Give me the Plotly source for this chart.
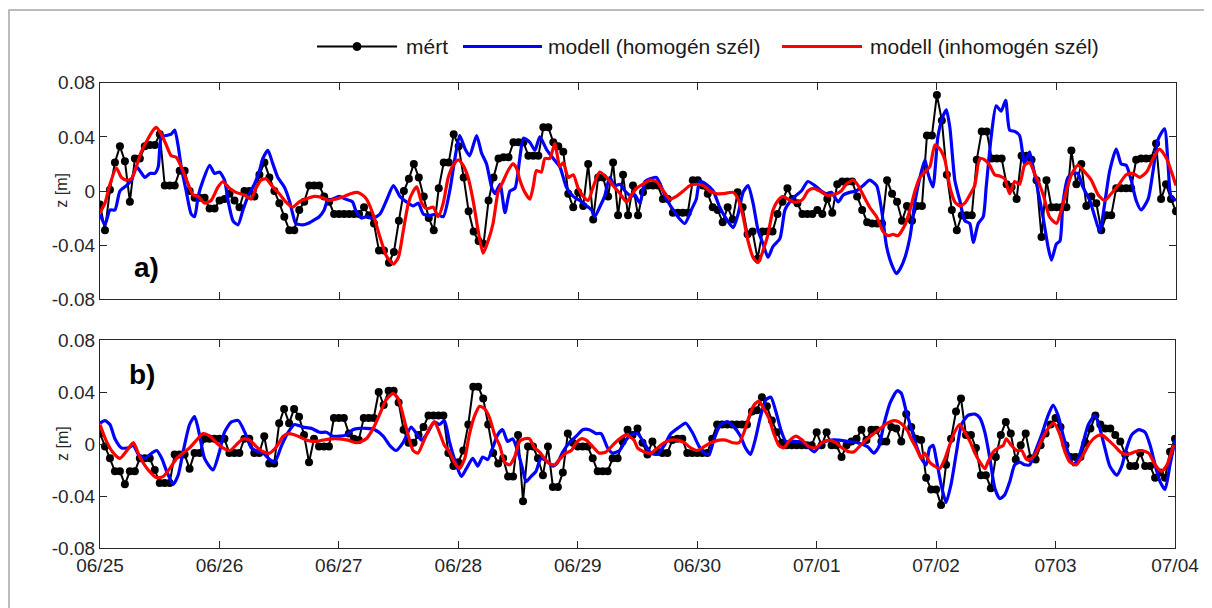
import plotly.graph_objects as go

W, H = 1212, 608
OFF = 8  # the page body adds an 8 px margin around the figure

# ---------------- data ----------------
day_labels = ["06/25", "06/26", "06/27", "06/28", "06/29", "06/30", "07/01", "07/02", "0703", "07/04"]
day_hours = [0, 24, 48, 72, 96, 120, 144, 168, 192, 216]
y_ticks = [-0.08, -0.04, 0, 0.04, 0.08]
y_tick_text = ["-0.08", "-0.04", "0", "0.04", "0.08"]
series_names = ["mért", "modell (homogén szél)", "modell (inhomogén szél)"]

# measured water level, hourly from 06/25 00:00 (panel a)
mert_a = [
    -0.010, -0.029, 0.001, 0.021, 0.033, 0.022, -0.008, 0.024, 0.024, 0.033, 0.034, 0.034,
    0.042, 0.004, 0.004, 0.004, 0.015, 0.015, 0.000, -0.005, -0.005, -0.005, -0.013, -0.013,
    -0.007, -0.006, -0.002, -0.007, -0.012, 0.000, 0.000, -0.004, 0.012, 0.021, 0.010, 0.000,
    -0.009, -0.019, -0.029, -0.029, -0.014, -0.008, 0.004, 0.004, 0.004, -0.004, -0.008, -0.017,
    -0.017, -0.017, -0.017, -0.017, -0.017, -0.012, -0.018, -0.024, -0.044, -0.044, -0.053, -0.045,
    -0.022, 0.000, 0.009, 0.020, 0.010, -0.004, -0.020, -0.029, 0.002, 0.021, 0.021, 0.042,
    0.033, 0.010, -0.015, -0.030, -0.037, -0.039, -0.007, 0.010, 0.024, 0.025, 0.025, 0.036,
    0.036, 0.036, 0.026, 0.026, 0.026, 0.047, 0.047, 0.036, 0.033, 0.029, -0.002, -0.012,
    -0.001, -0.011, 0.020, -0.021, 0.010, 0.010, -0.004, 0.021, -0.018, 0.012, -0.018, 0.004,
    -0.018, -0.001, 0.004, 0.004, 0.004, -0.006, -0.006, -0.016, -0.016, -0.016, -0.016, 0.008,
    0.008, 0.004, -0.002, -0.012, -0.014, -0.023, -0.012, -0.021, -0.001, -0.012, -0.032, -0.030,
    -0.050, -0.030, -0.030, -0.030, -0.017, -0.008, 0.002, -0.006, -0.009, -0.017, -0.017, -0.017,
    -0.014, -0.017, -0.006, -0.016, 0.005, 0.007, 0.007, 0.007, -0.004, -0.014, -0.023, -0.024,
    -0.024, -0.024, 0.008, -0.002, -0.008, -0.022, -0.011, -0.022, -0.011, -0.011, 0.041, 0.041,
    0.071, 0.052, 0.012, -0.014, -0.029, -0.018, -0.018, -0.018, 0.023, 0.044, 0.044, 0.024,
    0.024, 0.024, 0.005, 0.003, -0.006, 0.026, 0.026, 0.023, 0.008, -0.034, 0.008, -0.012,
    -0.012, -0.012, -0.012, 0.030, 0.005, 0.020, -0.011, -0.004, -0.009, -0.029, -0.018, -0.018,
    0.002, 0.002, 0.002, 0.002, 0.023, 0.024, 0.024, 0.024, 0.035, -0.006, 0.005, -0.006,
    -0.015,
]

# measured water level, hourly (panel b)
mert_b = [
    0.008, -0.002, -0.011, -0.021, -0.021, -0.031, -0.021, -0.021, -0.011, -0.011, -0.011, -0.020,
    -0.030, -0.030, -0.030, -0.008, -0.008, -0.008, -0.019, -0.007, -0.007, 0.004, 0.004, 0.004,
    0.004, 0.004, -0.007, -0.007, -0.007, 0.004, 0.004, -0.007, -0.007, 0.006, -0.015, -0.015,
    0.016, 0.027, 0.016, 0.027, 0.021, 0.007, -0.014, 0.004, -0.002, -0.002, -0.002, 0.020,
    0.020, 0.020, 0.008, 0.004, 0.003, 0.020, 0.020, 0.020, 0.040, 0.030, 0.041, 0.041,
    0.032, 0.011, 0.001, 0.001, 0.007, 0.013, 0.022, 0.022, 0.022, 0.022, -0.007, -0.017,
    -0.014, -0.005, 0.015, 0.044, 0.044, 0.035, 0.015, -0.007, -0.015, -0.011, -0.025, -0.025,
    0.007, -0.044, -0.002, -0.002, -0.011, -0.024, -0.002, -0.033, -0.033, -0.022, 0.008, 0.001,
    -0.002, -0.002, -0.002, -0.011, -0.021, -0.021, -0.021, -0.011, -0.011, 0.002, 0.011, 0.007,
    0.012, 0.001, -0.008, 0.002, -0.006, -0.007, -0.007, 0.003, 0.004, 0.004, -0.007, -0.007,
    -0.007, -0.007, -0.007, 0.004, 0.015, 0.015, 0.015, 0.015, 0.015, 0.015, 0.015, 0.025,
    0.026, 0.036, 0.029, 0.018, 0.009, 0.001, -0.001, -0.001, -0.001, -0.001, -0.001, -0.001,
    0.009, -0.001, 0.009, -0.001, -0.001, -0.010, -0.001, 0.002, 0.004, 0.011, 0.003, 0.011,
    0.011, 0.002, 0.002, 0.013, 0.012, 0.002, 0.023, 0.013, 0.004, 0.003, -0.026, -0.035,
    -0.035, -0.047, -0.016, 0.004, 0.025, 0.035, 0.007, 0.007, -0.003, -0.024, -0.024, -0.034,
    -0.010, 0.007, 0.017, 0.008, -0.012, -0.001, 0.008, -0.011, -0.012, -0.001, 0.008, 0.015,
    0.020, 0.013, -0.001, -0.010, -0.010, -0.010, 0.001, 0.012, 0.022, 0.015, 0.012, 0.012,
    0.007, 0.002, -0.008, -0.017, -0.017, -0.007, -0.017, -0.017, -0.026, -0.022, -0.026, -0.006,
    0.004,
]

# model, homogeneous wind (panel a): (hour, z)
homogen_a = [
    (0, -0.017), (1, -0.025), (2, -0.014), (3, -0.014), (4, 0.0), (5.3, 0.004), (6.3, 0.008),
    (7.3, 0.018), (8, 0.015), (9, 0.010), (10, 0.013), (11, 0.013), (11.7, 0.018), (12.3, 0.040),
    (13.3, 0.041), (14.3, 0.042), (15, 0.045), (15.7, 0.033), (16.3, 0.018), (17.3, 0.0),
    (18.3, -0.017), (19, -0.019), (19.7, -0.004), (20.7, 0.008), (22, 0.019), (23, 0.013),
    (24, 0.014), (25, 0.008), (25.7, -0.007), (26.7, -0.022), (27.7, -0.025), (28.7, -0.014),
    (29.7, -0.004), (31, 0.005), (32, 0.015), (32.7, 0.024), (33.7, 0.030), (34.7, 0.020),
    (35.7, 0.010), (37, 0.003), (38, -0.007), (38.7, -0.017), (39.3, -0.024), (40.7, -0.025),
    (41.7, -0.024), (42.7, -0.022), (44, -0.019), (45, -0.014), (45.7, -0.007), (46.7, -0.006),
    (48, -0.004), (49.3, -0.006), (50.7, -0.008), (51.3, -0.014), (52.5, -0.020), (53.5, -0.019),
    (54.9, -0.020), (56.2, -0.017), (57.5, -0.007), (58.9, 0.004), (60.2, -0.004), (61.5, -0.008),
    (62.9, -0.011), (63.9, -0.009), (64.9, -0.017), (66.2, -0.018), (67.6, -0.017), (68.9, -0.019),
    (70.2, 0.0), (71.2, 0.023), (72.2, 0.041), (73.3, 0.031), (74.2, 0.026), (75.6, 0.041),
    (76.6, 0.028), (77.6, 0.020), (78.6, 0.003), (79.3, -0.002), (80.3, 0.005), (81.3, -0.016),
    (82.3, 0.0), (83.3, 0.002), (84.3, 0.025), (85, 0.039), (86.3, 0.036), (87.3, 0.030),
    (88.3, 0.040), (89.6, 0.031), (91, 0.024), (92.3, 0.018), (93.6, 0.003), (95, -0.004),
    (96.3, -0.007), (97.7, -0.011), (98.7, -0.014), (99.3, -0.019), (100.3, -0.012),
    (101.3, -0.004), (102.3, 0.010), (103.3, 0.004), (104.4, 0.005), (105.4, 0.0), (106.7, -0.004),
    (107.4, -0.003), (108.4, -0.009), (109.4, 0.007), (110.4, 0.009), (111.7, 0.010),
    (112.7, 0.003), (113.7, -0.006), (114.7, -0.012), (116, -0.019), (117.4, -0.024),
    (118.7, -0.014), (119.7, -0.006), (120.4, 0.007), (121.7, 0.005), (123.1, 0.0),
    (124.4, -0.012), (125.8, -0.021), (127.1, -0.027), (128.1, -0.017), (129.1, -0.001),
    (130.1, 0.004), (131.1, -0.009), (132.1, -0.029), (133.1, -0.039), (134.1, -0.049),
    (135.1, -0.041), (136.5, -0.035), (137.5, -0.014), (138.5, -0.008), (139.5, -0.004),
    (140.8, 0.0), (142.1, 0.007), (143.5, 0.004), (144.8, 0.0), (145.8, -0.002), (146.8, -0.001),
    (148.2, -0.008), (149.2, -0.003), (150.5, -0.001), (151.8, 0.0), (153.2, 0.004),
    (154.5, 0.008), (155.9, 0.004), (156.9, -0.014), (157.9, -0.041), (158.9, -0.054),
    (159.9, -0.061), (160.7, -0.057), (161.6, -0.049), (162.6, -0.034), (163.6, -0.008),
    (164.6, 0.010), (165.6, 0.023), (166.2, 0.013), (167.2, 0.003), (168.2, 0.040),
    (169.2, 0.055), (169.9, 0.060), (170.6, 0.047), (171.6, 0.008), (172.6, -0.007),
    (173.6, -0.022), (174.6, -0.024), (175.3, -0.038), (176.3, -0.024), (177.3, -0.019),
    (177.9, 0.003), (178.9, 0.040), (179.9, 0.063), (180.9, 0.059), (181.8, 0.067),
    (182.6, 0.045), (183.6, 0.044), (184.6, 0.041), (185.6, 0.020), (186.6, 0.029),
    (187.3, 0.018), (188.3, 0.0), (189.3, -0.019), (190.3, -0.041), (191, -0.051),
    (192, -0.039), (192.7, -0.037), (193.3, -0.009), (194.3, 0.010), (195.3, 0.013),
    (196.3, 0.013), (197.3, 0.003), (198.7, -0.007), (199.7, -0.019), (200.7, -0.030),
    (201.7, -0.009), (202.7, 0.015), (204, 0.031), (205, 0.020), (206, 0.019), (207, 0.008),
    (208, -0.007), (209, -0.014), (210.4, -0.006), (211.4, 0.015), (212.4, 0.038),
    (213.7, 0.046), (214.4, 0.020), (215, -0.004), (216, -0.007),
]

# model, inhomogeneous wind (panel a): (hour, z)
inhomogen_a = [
    (0, -0.016), (1, -0.009), (2, 0.005), (3.3, 0.017), (4.3, 0.010), (5.3, 0.008), (6.3, 0.009),
    (7.3, 0.018), (8.3, 0.029), (9.7, 0.039), (10.7, 0.045), (11.3, 0.047), (12.3, 0.042),
    (13.3, 0.034), (14.3, 0.026), (15.3, 0.025), (16.3, 0.018), (17.7, 0.005), (18.7, -0.003),
    (19.7, -0.004), (21, -0.009), (22.3, -0.007), (23.7, 0.003), (24.7, 0.007), (26, 0.002),
    (27.3, -0.001), (29, -0.003), (30.3, -0.006), (31.3, 0.002), (32.3, 0.008), (33.3, 0.009),
    (34.7, 0.003), (36, -0.002), (37.3, -0.008), (38.7, -0.012), (40, -0.008), (41.3, -0.006),
    (43, -0.004), (44.7, -0.005), (46, -0.007), (47.3, -0.006), (49, -0.004), (50.3, -0.002),
    (51.7, -0.001), (52.7, -0.003), (53.5, -0.006), (54.9, -0.018), (56.2, -0.034),
    (57.5, -0.048), (58.9, -0.054), (59.9, -0.049), (60.9, -0.029), (61.9, -0.009), (62.9, 0.0),
    (63.6, 0.003), (64.6, -0.009), (65.6, -0.013), (66.9, -0.012), (67.9, -0.019), (68.9, -0.009),
    (69.9, 0.010), (70.9, 0.019), (71.9, 0.023), (72.9, 0.019), (73.9, 0.010), (74.9, -0.007),
    (75.9, -0.029), (76.9, -0.046), (77.9, -0.037), (78.9, -0.024), (79.9, -0.001), (80.9, 0.007),
    (81.9, 0.015), (82.9, 0.020), (83.6, 0.017), (84.3, 0.008), (85.3, -0.001), (86.3, -0.006),
    (87, 0.004), (87.6, 0.015), (88.6, 0.014), (89.3, 0.024), (90.3, 0.024), (91.3, 0.035),
    (92.3, 0.018), (93, 0.021), (94, 0.010), (95, 0.012), (96, 0.002), (97, -0.004), (98, -0.007),
    (99, 0.003), (100.3, 0.014), (101.7, 0.010), (103, 0.004), (104.4, -0.002), (105.7, -0.008),
    (106.5, -0.004), (107.7, 0.002), (109, 0.005), (110.4, 0.008), (111.7, 0.007), (113.1, 0.0),
    (114.4, -0.006), (115.7, -0.004), (117.1, 0.0), (118.4, 0.004), (119.7, 0.005), (121.1, 0.004),
    (122.4, 0.0), (123.8, -0.002), (125.1, -0.002), (127.1, -0.001), (128.1, -0.006),
    (129.1, -0.019), (130.1, -0.037), (131.1, -0.049), (132.1, -0.053), (133.1, -0.044),
    (134.1, -0.032), (135.1, -0.014), (136.1, -0.007), (137.1, -0.004), (138.1, -0.006),
    (139.1, -0.008), (140.1, -0.008), (141.1, -0.006), (142.1, 0.0), (143.2, 0.002), (144.5, 0.0),
    (145.8, -0.003), (146.8, -0.003), (147.8, -0.002), (148.8, 0.0), (149.8, 0.005),
    (151.2, 0.008), (152.2, 0.004), (153.2, -0.003), (154.5, -0.012), (155.9, -0.019),
    (157.2, -0.030), (158.2, -0.033), (159.2, -0.032), (160.2, -0.033), (161.6, -0.025),
    (162.6, -0.014), (163.6, 0.0), (164.6, 0.010), (165.6, 0.014), (166.6, 0.018), (167.6, 0.034),
    (168.6, 0.031), (169.6, 0.023), (170.6, 0.003), (171.6, -0.008), (172.6, -0.011),
    (173.6, -0.009), (174.6, -0.003), (175.6, 0.004), (176.6, 0.024), (177.6, 0.023),
    (178.6, 0.019), (179.6, 0.012), (180.6, 0.011), (181.6, 0.009), (182.6, -0.002),
    (183.6, 0.007), (184.6, 0.005), (185.6, 0.019), (186.6, 0.021), (187.6, 0.013), (188.6, 0.005),
    (189.6, -0.006), (190.6, -0.019), (192, -0.024), (193, -0.014), (194, 0.0), (195, 0.012),
    (196.3, 0.019), (197.7, 0.014), (199, 0.008), (200.4, -0.003), (201.7, -0.007), (203, -0.002),
    (204.4, 0.004), (206, 0.012), (207.4, 0.013), (208.7, 0.010), (210.1, 0.014), (211.4, 0.024),
    (212.7, 0.031), (214.1, 0.024), (215.1, 0.014), (216, 0.004),
]

# model, homogeneous wind (panel b): (hour, z)
homogen_b = [
    (0, 0.016), (1, 0.018), (2, 0.015), (3, 0.004), (4.3, -0.003), (5.7, -0.003), (6.7, -0.001),
    (7.7, -0.008), (9, -0.011), (10.4, -0.007), (11.4, -0.005), (12.4, -0.011), (13.4, -0.021),
    (14.7, -0.031), (15.7, -0.024), (16.7, -0.006), (18, 0.015), (19, 0.021), (20, 0.007),
    (21, -0.011), (22.7, -0.020), (24, -0.006), (25, 0.009), (26.4, 0.017), (27.8, 0.018),
    (29.1, 0.009), (30.4, -0.003), (31.8, -0.006), (32.8, -0.007), (34.1, -0.012), (35.1, -0.014),
    (36.5, -0.001), (37.8, 0.009), (39.1, 0.015), (40.8, 0.013), (42.5, 0.012), (44.1, 0.009),
    (45.5, 0.009), (46.8, 0.006), (48.2, 0.006), (49.5, 0.007), (50.8, 0.011), (52.2, 0.012),
    (53.5, 0.012), (55.2, 0.011), (56.9, 0.006), (58.2, -0.001), (59.5, -0.005), (60.9, 0.001),
    (62.5, 0.013), (63.6, 0.008), (64.6, 0.003), (65.9, 0.009), (67.2, 0.017), (68.2, 0.015),
    (69.2, 0.018), (70.2, 0.002), (71.6, -0.016), (72.6, -0.025), (73.6, -0.019), (74.9, -0.011),
    (75.9, -0.017), (76.9, -0.010), (77.9, -0.012), (78.9, -0.003), (79.9, 0.007), (80.9, 0.011),
    (81.9, 0.002), (82.9, 0.004), (83.9, -0.005), (84.9, -0.019), (85.6, -0.029), (86.6, -0.025),
    (87.6, -0.021), (88.6, -0.011), (90, -0.014), (91, -0.017), (92, -0.014), (93, -0.006),
    (94.3, 0.001), (95.7, 0.006), (97, 0.011), (98.3, 0.011), (99.7, 0.008), (100.7, 0.008),
    (102, -0.003), (103, -0.007), (104.4, -0.005), (105.7, 0.003), (106.7, 0.007), (108, 0.008),
    (109.3, 0.001), (110.7, -0.007), (112, -0.008), (113.4, -0.001), (114.7, 0.008),
    (116.4, 0.013), (117.7, 0.016), (119, 0.009), (120.4, -0.002), (121.4, -0.007),
    (122.4, -0.008), (123.4, 0.004), (124.7, 0.015), (126.1, 0.017), (127.4, 0.013),
    (128.7, 0.006), (129.7, -0.003), (130.7, -0.008), (131.7, 0.004), (132.7, 0.021),
    (133.8, 0.034), (134.8, 0.036), (135.8, 0.025), (136.8, 0.011), (137.8, 0.002),
    (139.4, 0.002), (141.4, 0.001), (143.5, -0.006), (145.1, 0.001), (146.8, 0.003),
    (148.5, 0.003), (150.1, 0.002), (152.2, 0.001), (154.2, -0.002), (155.5, -0.007),
    (156.5, -0.002), (157.5, 0.015), (158.8, 0.032), (160.2, 0.041), (161, 0.039), (162, 0.025),
    (163, 0.012), (164, -0.001), (165, -0.011), (166, -0.016), (166.7, -0.003), (167.4, -0.001),
    (168, -0.011), (169, -0.031), (170, -0.045), (171, -0.031), (172.1, -0.006), (173.1, 0.015),
    (174.4, 0.022), (175.8, 0.023), (176.8, 0.020), (177.8, 0.009), (178.8, -0.011),
    (179.8, -0.034), (180.8, -0.042), (181.8, -0.039), (182.8, -0.029), (183.8, -0.016),
    (184.8, -0.014), (185.8, -0.016), (186.8, -0.016), (187.8, -0.007), (189.2, 0.007),
    (190.5, 0.022), (191.5, 0.030), (192.5, 0.022), (193.5, 0.007), (194.6, -0.008),
    (195.6, -0.016), (196.6, -0.011), (197.6, 0.002), (198.6, 0.015), (199.9, 0.022),
    (200.9, 0.012), (201.9, -0.003), (202.9, -0.017), (204.3, -0.024), (205.3, -0.017),
    (206.3, -0.003), (207.3, 0.007), (208.7, 0.011), (210, 0.009), (211, -0.001), (212, -0.016),
    (213, -0.029), (214, -0.035), (215, -0.016), (216, 0.003),
]

# model, inhomogeneous wind (panel b): (hour, z)
inhomogen_b = [
    (0, 0.015), (1.3, 0.002), (2.7, -0.007), (4, -0.011), (5.4, -0.005), (6.7, 0.001), (8, -0.010),
    (9.7, -0.020), (11.4, -0.026), (12.7, -0.025), (14, -0.019), (15.4, -0.011), (16.7, -0.007),
    (18, -0.003), (19.4, 0.003), (20.7, 0.008), (22.1, 0.006), (23.4, 0.001), (24.7, -0.003),
    (26.1, -0.005), (27.8, 0.001), (28.8, 0.004), (30.1, 0.003), (31.4, -0.002), (32.8, -0.006),
    (34.1, -0.007), (35.5, -0.002), (36.8, 0.006), (38.1, 0.008), (39.8, 0.006), (41.5, 0.003),
    (43.1, 0.002), (44.8, 0.003), (46.5, 0.004), (48.2, 0.004), (49.8, 0.003), (51.5, 0.001),
    (52.5, 0.002), (53.5, 0.004), (54.9, 0.012), (56.2, 0.023), (57.5, 0.034), (58.9, 0.039),
    (59.9, 0.035), (60.9, 0.022), (61.9, 0.007), (62.9, -0.005), (63.9, -0.007), (64.9, 0.001),
    (66.2, 0.012), (67.2, 0.017), (68.2, 0.009), (69.2, -0.001), (70.2, -0.006), (71.2, -0.014),
    (72.2, -0.019), (73.3, -0.011), (74.2, 0.007), (75.3, 0.022), (76.3, 0.029), (77.3, 0.027),
    (78.3, 0.020), (79.3, 0.007), (80.3, -0.001), (81.3, -0.014), (82.3, -0.016), (83.3, -0.010),
    (84.3, 0.002), (85.3, 0.004), (86.3, 0.004), (87.3, -0.003), (88.3, -0.006), (89.3, -0.011),
    (90.3, -0.015), (91.3, -0.016), (92.3, -0.012), (93.6, -0.007), (94.7, -0.005), (95.7, 0.001),
    (96.7, 0.004), (97.7, 0.003), (99, -0.002), (100.3, -0.007), (101.7, -0.006), (103, -0.001),
    (104.4, 0.004), (105.7, 0.007), (107.3, 0.003), (108, -0.003), (109.3, -0.006),
    (110.7, -0.007), (112, -0.003), (113.4, 0.001), (114.7, 0.003), (116, 0.003), (117.4, 0.001),
    (118.7, -0.003), (120, -0.005), (121.4, -0.002), (122.7, 0.001), (124.4, 0.003),
    (125.7, 0.003), (127.1, 0.001), (128.4, 0.001), (129.4, 0.009), (130.4, 0.021),
    (131.4, 0.030), (132.4, 0.033), (133.4, 0.027), (134.4, 0.020), (135.4, 0.008),
    (136.4, -0.001), (137.4, -0.003), (138.4, 0.002), (139.8, 0.006), (141.1, 0.003),
    (142.4, -0.002), (143.8, -0.003), (145.1, 0.001), (146.5, 0.003), (147.8, 0.001),
    (149.1, -0.003), (150.5, -0.006), (151.5, -0.006), (152.8, -0.001), (154.2, 0.004),
    (155.5, 0.008), (156.8, 0.012), (158.2, 0.016), (159.5, 0.018), (160.5, 0.017),
    (161.5, 0.014), (162.3, 0.010), (163, 0.004), (164, -0.003), (165, -0.011), (165.7, -0.007),
    (166.7, -0.014), (167.7, -0.017), (168.7, -0.019), (169.7, -0.012), (170.7, -0.001),
    (171.7, 0.009), (172.7, 0.015), (173.8, 0.009), (174.8, 0.002), (175.8, -0.007),
    (176.8, -0.014), (177.8, -0.019), (178.4, -0.014), (179.5, -0.006), (180.5, -0.003),
    (181.5, -0.001), (182.1, 0.004), (183.1, -0.001), (184.2, -0.005), (185.2, -0.005),
    (186.2, -0.012), (187.2, -0.011), (188.2, -0.006), (189.2, 0.003), (190.5, 0.012),
    (191.7, 0.016), (192.9, 0.007), (193.9, -0.006), (194.9, -0.014), (196.2, -0.016),
    (197.6, -0.008), (198.9, 0.001), (200.3, 0.006), (201.3, 0.007), (202.6, 0.003),
    (204, -0.002), (205.3, -0.007), (206.6, -0.008), (208, -0.006), (209.3, -0.005),
    (210.7, -0.007), (212, -0.016), (213.3, -0.021), (214.4, -0.016), (215.7, -0.001),
]

# ---------------- styling ----------------
FONT = "Arial, Liberation Sans, sans-serif"
AXC = "#262626"
C_MERT, C_HOM, C_INH = "#000000", "#0000ff", "#ff0000"


def pxx(x):
    """page pixel x -> paper fraction"""
    return (x - OFF) / W


def pyy(y):
    """page pixel y -> paper fraction"""
    return 1 - (y - OFF) / H


fig = go.Figure()

panels = [
    ("x", "y", mert_a, homogen_a, inhomogen_a),
    ("x2", "y2", mert_b, homogen_b, inhomogen_b),
]
for xa, ya, mert, hom, inh in panels:
    fig.add_trace(go.Scatter(
        x=list(range(len(mert))), y=mert, xaxis=xa, yaxis=ya, name=series_names[0],
        mode="lines+markers", line=dict(color=C_MERT, width=2),
        marker=dict(color=C_MERT, size=8), showlegend=False))
    fig.add_trace(go.Scatter(
        x=[p[0] for p in hom], y=[p[1] for p in hom], xaxis=xa, yaxis=ya, name=series_names[1],
        mode="lines", line=dict(color=C_HOM, width=3.2, shape="spline", smoothing=0.6),
        showlegend=False))
    fig.add_trace(go.Scatter(
        x=[p[0] for p in inh], y=[p[1] for p in inh], xaxis=xa, yaxis=ya, name=series_names[2],
        mode="lines", line=dict(color=C_INH, width=3.2, shape="spline", smoothing=0.6),
        showlegend=False))

common_x = dict(range=[0, 216], tickvals=day_hours, ticktext=day_labels, ticks="inside",
                ticklen=7, tickcolor=AXC, showline=True, linecolor=AXC, linewidth=1.2,
                mirror="ticks", showgrid=False, zeroline=False, automargin=False,
                tickfont=dict(family=FONT, size=19, color=AXC))
common_y = dict(range=[-0.08, 0.08], tickvals=y_ticks, ticktext=y_tick_text, ticks="inside",
                ticklen=7, tickcolor=AXC, showline=True, linecolor=AXC, linewidth=1.2,
                mirror="ticks", showgrid=False, zeroline=False, automargin=False,
                tickfont=dict(family=FONT, size=19, color=AXC))

fig.update_layout(
    width=W, height=H, margin=dict(l=0, r=0, t=0, b=0, pad=0), autosize=False,
    paper_bgcolor="white", plot_bgcolor="white", showlegend=False,
    xaxis=dict(domain=[pxx(100), pxx(1176)], anchor="y", showticklabels=False, **common_x),
    yaxis=dict(domain=[pyy(299.3), pyy(82.7)], anchor="x", **common_y),
    xaxis2=dict(domain=[pxx(100), pxx(1175)], anchor="y2", **common_x),
    yaxis2=dict(domain=[pyy(548), pyy(340)], anchor="x2", **common_y),
)

# y-axis titles and panel labels
for yc in (190.7, 444):
    fig.add_annotation(x=pxx(62), y=pyy(yc), xref="paper", yref="paper", text="z [m]",
                       textangle=-90, showarrow=False, xanchor="center", yanchor="middle",
                       font=dict(family=FONT, size=16, color=AXC))
for txt, (cx, cy) in (("a)", (146, 268)), ("b)", (142, 375))):
    fig.add_annotation(x=pxx(cx), y=pyy(cy), xref="paper", yref="paper", text=f"<b>{txt}</b>",
                       showarrow=False, xanchor="center", yanchor="middle",
                       font=dict(family=FONT, size=28, color="#000000"))

# legend (drawn manually to reproduce the long sample lines)
legend_items = [
    (317, 397, 404, C_MERT, 2, True),
    (463, 542, 546, C_HOM, 3.2, False),
    (782, 862, 868, C_INH, 3.2, False),
]
ly = 46.5
for (x0, x1, xt, col, lw, mk), name in zip(legend_items, series_names):
    fig.add_shape(type="line", xref="paper", yref="paper", x0=pxx(x0), x1=pxx(x1),
                  y0=pyy(ly), y1=pyy(ly), line=dict(color=col, width=lw))
    if mk:
        xc = (x0 + x1) / 2
        fig.add_shape(type="circle", xref="paper", yref="paper", x0=pxx(xc - 4), x1=pxx(xc + 4),
                      y0=pyy(ly + 4), y1=pyy(ly - 4), fillcolor=col, line=dict(color=col, width=1))
    fig.add_annotation(x=pxx(xt), y=pyy(ly), xref="paper", yref="paper", text=name,
                       xanchor="left", yanchor="middle", showarrow=False,
                       font=dict(family=FONT, size=21, color="#1a1a1a"))

# figure frame (left edge kept just inside the visible page area)
fig.add_shape(type="rect", xref="paper", yref="paper", x0=pxx(9), x1=pxx(1260),
              y0=pyy(660), y1=pyy(10), line=dict(color="#a6a6a6", width=1.5), layer="below")

fig.write_html("out.html")
